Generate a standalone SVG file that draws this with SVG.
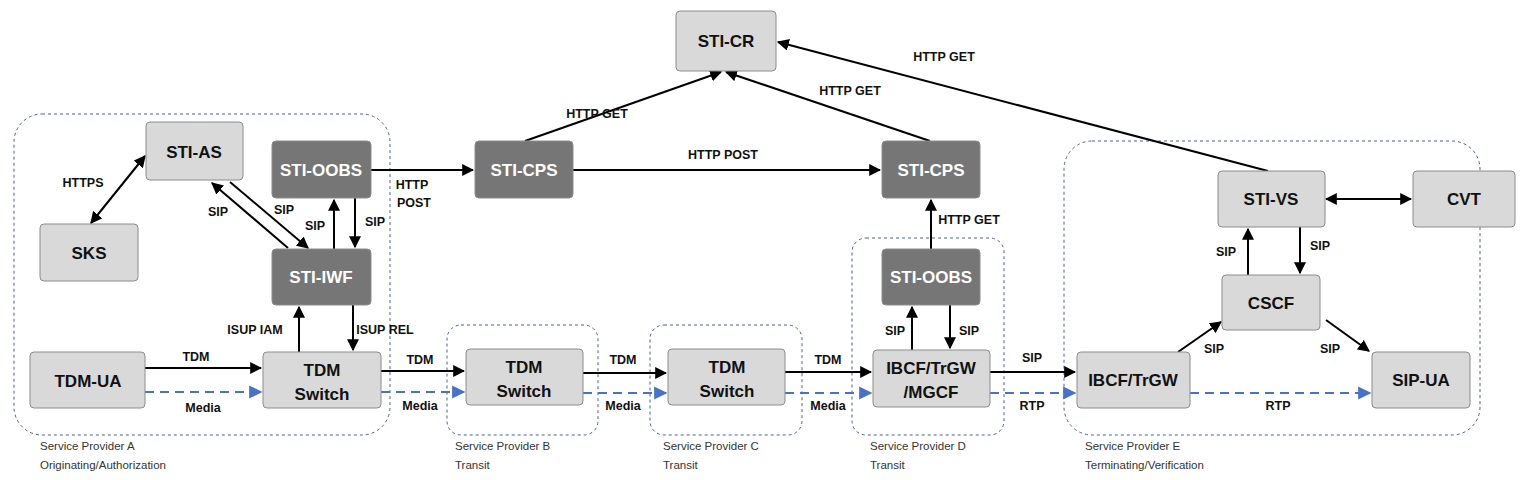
<svg xmlns="http://www.w3.org/2000/svg" width="1524" height="480" viewBox="0 0 1524 480">
<style>
.box{fill:#d9d9d9;stroke:#8c8c8c;stroke-width:1}
.dark{fill:#767676;stroke:#8c8c8c;stroke-width:1}
.nt{font-family:"Liberation Sans",Arial,sans-serif;font-weight:bold;font-size:17px;text-anchor:middle;fill:#111}
.dt{fill:#fff}
.lb{font-family:"Liberation Sans",Arial,sans-serif;font-weight:bold;font-size:12.5px;text-anchor:middle;fill:#111}
.gl{font-family:"Liberation Sans",Arial,sans-serif;font-size:11.5px;fill:#333}
.grp{fill:none;stroke:#4a6391;stroke-width:1;stroke-dasharray:3 3}
.ln{stroke:#000;stroke-width:2;fill:none}
.md{stroke:#4a72c4;stroke-width:2.2;fill:none;stroke-dasharray:9 6}
</style>
<defs>
<marker id="a" viewBox="0 0 10 10" refX="9" refY="5" markerWidth="6" markerHeight="6" orient="auto-start-reverse"><path d="M0,0L10,5L0,10z" fill="#000"/></marker>
<marker id="b" viewBox="0 0 10 10" refX="9" refY="5" markerWidth="6" markerHeight="6" orient="auto"><path d="M0,0L10,5L0,10z" fill="#4a72c4"/></marker>
</defs>
<g id="groups">
<rect class="grp" x="14" y="114" width="376" height="321" rx="28"/>
<rect class="grp" x="447" y="325" width="151" height="110" rx="14"/>
<rect class="grp" x="650" y="325" width="152" height="110" rx="14"/>
<rect class="grp" x="852" y="238" width="152" height="197" rx="14"/>
<rect class="grp" x="1064" y="141" width="416" height="294" rx="28"/>
<text class="gl" x="40" y="450">Service Provider A</text><text class="gl" x="40" y="469">Originating/Authorization</text>
<text class="gl" x="455" y="450">Service Provider B</text><text class="gl" x="455" y="469">Transit</text>
<text class="gl" x="663" y="450">Service Provider C</text><text class="gl" x="663" y="469">Transit</text>
<text class="gl" x="870" y="450">Service Provider D</text><text class="gl" x="870" y="469">Transit</text>
<text class="gl" x="1085" y="450">Service Provider E</text><text class="gl" x="1085" y="469">Terminating/Verification</text>
</g>
<g id="connectors">
<line class="ln" x1="525" y1="141" x2="721" y2="72" marker-end="url(#a)"/>
<text class="lb" x="597" y="118">HTTP GET</text>
<line class="ln" x1="930" y1="141" x2="726" y2="72" marker-end="url(#a)"/>
<text class="lb" x="850" y="95">HTTP GET</text>
<line class="ln" x1="1268" y1="171" x2="778" y2="42" marker-end="url(#a)"/>
<text class="lb" x="944" y="61">HTTP GET</text>
<line class="ln" x1="371" y1="170" x2="473" y2="170" marker-end="url(#a)"/>
<text class="lb" x="412" y="189">HTTP</text><text class="lb" x="414" y="207">POST</text>
<line class="ln" x1="573" y1="170" x2="880" y2="170" marker-end="url(#a)"/>
<text class="lb" x="723" y="159">HTTP POST</text>
<line class="ln" x1="931" y1="249" x2="931" y2="200" marker-end="url(#a)"/>
<text class="lb" x="969" y="224">HTTP GET</text>
<line class="ln" x1="912" y1="350" x2="912" y2="307" marker-end="url(#a)"/>
<text class="lb" x="895" y="335">SIP</text>
<line class="ln" x1="950" y1="305" x2="950" y2="348" marker-end="url(#a)"/>
<text class="lb" x="969" y="335">SIP</text>
<line class="ln" x1="299" y1="352" x2="299" y2="307" marker-end="url(#a)"/>
<text class="lb" x="255" y="334">ISUP IAM</text>
<line class="ln" x1="353" y1="305" x2="353" y2="350" marker-end="url(#a)"/>
<text class="lb" x="385" y="334">ISUP REL</text>
<line class="ln" x1="334" y1="249" x2="334" y2="200" marker-end="url(#a)"/>
<text class="lb" x="315" y="230">SIP</text>
<line class="ln" x1="355" y1="198" x2="355" y2="247" marker-end="url(#a)"/>
<text class="lb" x="375" y="226">SIP</text>
<line class="ln" x1="288" y1="248" x2="212" y2="183" marker-end="url(#a)"/>
<text class="lb" x="218" y="216">SIP</text>
<line class="ln" x1="230" y1="182" x2="308" y2="248" marker-end="url(#a)"/>
<text class="lb" x="284" y="214">SIP</text>
<line class="ln" x1="91" y1="223" x2="145" y2="156" marker-start="url(#a)" marker-end="url(#a)"/>
<text class="lb" x="83" y="187">HTTPS</text>
<line class="ln" x1="1326" y1="199" x2="1411" y2="199" marker-start="url(#a)" marker-end="url(#a)"/>
<line class="ln" x1="1248" y1="275" x2="1248" y2="229" marker-end="url(#a)"/>
<text class="lb" x="1226" y="256">SIP</text>
<line class="ln" x1="1300" y1="227" x2="1300" y2="273" marker-end="url(#a)"/>
<text class="lb" x="1320" y="250">SIP</text>
<line class="ln" x1="1178" y1="352" x2="1221" y2="322" marker-end="url(#a)"/>
<text class="lb" x="1214" y="353">SIP</text>
<line class="ln" x1="1326" y1="320" x2="1369" y2="351" marker-end="url(#a)"/>
<text class="lb" x="1330" y="353">SIP</text>
<line class="ln" x1="145" y1="368" x2="261" y2="368" marker-end="url(#a)"/>
<text class="lb" x="196" y="361">TDM</text>
<line class="md" x1="145" y1="392" x2="261" y2="392" marker-end="url(#b)"/>
<text class="lb" x="203" y="412">Media</text>
<line class="ln" x1="381" y1="371" x2="464" y2="371" marker-end="url(#a)"/>
<text class="lb" x="420" y="364">TDM</text>
<line class="md" x1="381" y1="392" x2="464" y2="392" marker-end="url(#b)"/>
<text class="lb" x="420" y="410">Media</text>
<line class="ln" x1="583" y1="373" x2="666" y2="373" marker-end="url(#a)"/>
<text class="lb" x="623" y="364">TDM</text>
<line class="md" x1="583" y1="393" x2="666" y2="393" marker-end="url(#b)"/>
<text class="lb" x="623" y="410">Media</text>
<line class="ln" x1="785" y1="372" x2="871" y2="372" marker-end="url(#a)"/>
<text class="lb" x="828" y="364">TDM</text>
<line class="md" x1="785" y1="393" x2="871" y2="393" marker-end="url(#b)"/>
<text class="lb" x="828" y="410">Media</text>
<line class="ln" x1="990" y1="372" x2="1075" y2="372" marker-end="url(#a)"/>
<text class="lb" x="1032" y="362">SIP</text>
<line class="md" x1="990" y1="393" x2="1075" y2="393" marker-end="url(#b)"/>
<text class="lb" x="1032" y="410">RTP</text>
<line class="md" x1="1190" y1="393" x2="1370" y2="393" marker-end="url(#b)"/>
<text class="lb" x="1278" y="410">RTP</text>
</g>
<g id="sti-cr"><rect class="box" x="676" y="11" width="100" height="60" rx="4"/><text class="nt" x="726" y="47">STI-CR</text></g>
<g id="sti-as"><rect class="box" x="146" y="122" width="97" height="58" rx="4"/><text class="nt" x="194" y="158">STI-AS</text></g>
<g id="sks"><rect class="box" x="40" y="224" width="98" height="57" rx="4"/><text class="nt" x="89" y="259">SKS</text></g>
<g id="sti-oobs-a"><rect class="dark" x="272" y="141" width="99" height="57" rx="4"/><text class="nt dt" x="321" y="176">STI-OOBS</text></g>
<g id="sti-iwf"><rect class="dark" x="272" y="249" width="99" height="56" rx="4"/><text class="nt dt" x="321" y="283">STI-IWF</text></g>
<g id="tdm-ua"><rect class="box" x="30" y="352" width="115" height="56" rx="4"/><text class="nt" x="88" y="387">TDM-UA</text></g>
<g id="tdm-switch-a"><rect class="box" x="263" y="352" width="118" height="56" rx="4"/><text class="nt" x="322" y="376">TDM</text><text class="nt" x="322" y="400">Switch</text></g>
<g id="sti-cps-1"><rect class="dark" x="475" y="141" width="98" height="57" rx="4"/><text class="nt dt" x="524" y="176">STI-CPS</text></g>
<g id="sti-cps-2"><rect class="dark" x="882" y="141" width="98" height="57" rx="4"/><text class="nt dt" x="931" y="176">STI-CPS</text></g>
<g id="tdm-switch-b"><rect class="box" x="466" y="349" width="117" height="56" rx="4"/><text class="nt" x="524" y="373">TDM</text><text class="nt" x="524" y="397">Switch</text></g>
<g id="tdm-switch-c"><rect class="box" x="668" y="349" width="117" height="56" rx="4"/><text class="nt" x="727" y="373">TDM</text><text class="nt" x="727" y="397">Switch</text></g>
<g id="sti-oobs-d"><rect class="dark" x="882" y="249" width="98" height="56" rx="4"/><text class="nt dt" x="931" y="283">STI-OOBS</text></g>
<g id="ibcf-mgcf"><rect class="box" x="873" y="350" width="117" height="57" rx="4"/><text class="nt" x="931" y="374">IBCF/TrGW</text><text class="nt" x="931" y="398">/MGCF</text></g>
<g id="sti-vs"><rect class="box" x="1218" y="171" width="107" height="56" rx="4"/><text class="nt" x="1271" y="205">STI-VS</text></g>
<g id="cvt"><rect class="box" x="1413" y="171" width="102" height="56" rx="4"/><text class="nt" x="1464" y="205">CVT</text></g>
<g id="cscf"><rect class="box" x="1222" y="275" width="98" height="55" rx="4"/><text class="nt" x="1271" y="309">CSCF</text></g>
<g id="ibcf-e"><rect class="box" x="1077" y="352" width="113" height="56" rx="4"/><text class="nt" x="1133" y="386">IBCF/TrGW</text></g>
<g id="sip-ua"><rect class="box" x="1372" y="352" width="98" height="56" rx="4"/><text class="nt" x="1421" y="386">SIP-UA</text></g>
</svg>
